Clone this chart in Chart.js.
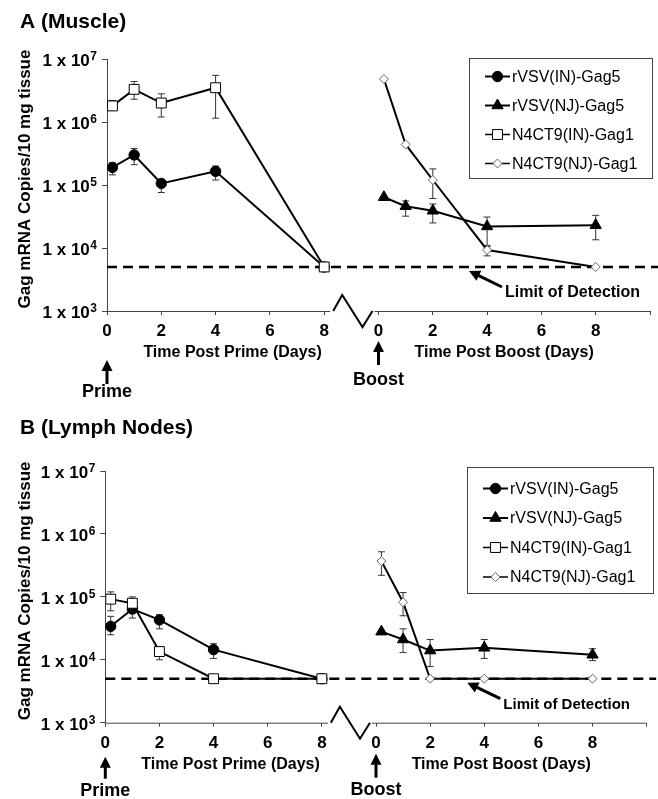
<!DOCTYPE html>
<html>
<head>
<meta charset="utf-8">
<title>Gag mRNA</title>
<script src="https://cdn.jsdelivr.net/npm/chart.js@4.4.0/dist/chart.umd.min.js"></script>
<style>
html, body { margin: 0; padding: 0; background: #fff; }
#wrap { position: relative; width: 658px; height: 799px; }
canvas { position: absolute; left: 0; }
#chartA { top: 0; }
#chartB { top: 400px; }
</style>
</head>
<body>
<div id="wrap">
  <canvas id="chartA" width="658" height="400"></canvas>
  <canvas id="chartB" width="658" height="399"></canvas>
</div>
<script>
// days
const PRIME_DAYS = [0.2, 1, 2, 4, 8];
const BOOST_DAYS = [0.2, 1, 2, 4, 8];
const BOOST_SHIFT = 10; // boost axis starts 10 units after prime day 0
const X_TICKS = [0, 2, 4, 6, 8, 10, 12, 14, 16, 18, 20];
const Y_TICKS = [1e3, 1e4, 1e5, 1e6, 1e7];
const LOD = 5000;
const SERIES_NAMES = ['rVSV(IN)-Gag5', 'rVSV(NJ)-Gag5', 'N4CT9(IN)-Gag1', 'N4CT9(NJ)-Gag1'];

// A (Muscle)
const muscleInGag5   = [1.9e5, 3.0e5, 1.06e5, 1.65e5, 5000];
const muscleInGag5Hi = [2.25e5, 3.8e5, 1.2e5, 2.0e5, null];
const muscleInGag5Lo = [1.45e5, 2.1e5, 7.6e4, 1.2e5, null];
const muscleNjGag5   = [6.4e4, 4.6e4, 3.9e4, 2.2e4, 2.3e4];
const muscleNjGag5Hi = [null, 5.6e4, 5.0e4, 3.1e4, 3.3e4];
const muscleNjGag5Lo = [null, 3.2e4, 2.5e4, 1.05e4, 1.35e4];
const muscleInGag1   = [1.8e6, 3.3e6, 2.0e6, 3.5e6, 5000];
const muscleInGag1Hi = [2.2e6, 4.4e6, 2.8e6, 5.5e6, null];
const muscleInGag1Lo = [1.55e6, 2.3e6, 1.2e6, 1.15e6, null];
const muscleNjGag1   = [4.8e6, 4.4e5, 1.2e5, 9.3e3, 5000];
const muscleNjGag1Hi = [null, null, 1.8e5, 1.1e4, null];
const muscleNjGag1Lo = [null, null, 6.1e4, 7.5e3, null];

// B (Lymph Nodes)
const lymphInGag5   = [3.4e4, 6.4e4, 4.3e4, 1.45e4, 5000];
const lymphInGag5Hi = [4.9e4, null, 5.2e4, 1.8e4, null];
const lymphInGag5Lo = [2.5e4, null, 3.1e4, 1.05e4, null];
const lymphNjGag5   = [2.8e4, 2.1e4, 1.4e4, 1.55e4, 1.2e4];
const lymphNjGag5Hi = [null, 3.1e4, 2.1e4, 2.1e4, 1.5e4];
const lymphNjGag5Lo = [null, 1.3e4, 7.8e3, 1.05e4, 9.7e3];
const lymphInGag1   = [9.2e4, 7.9e4, 1.35e4, 5000, 5000];
const lymphInGag1Hi = [1.2e5, 1.0e5, null, null, null];
const lymphInGag1Lo = [6.0e4, 4.6e4, 1.0e4, null, null];
const lymphNjGag1   = [3.7e5, 8.2e4, 5000, 5000, 5000];
const lymphNjGag1Hi = [5.2e5, 1.17e5, null, null, null];
const lymphNjGag1Lo = [2.2e5, 5.0e4, null, null, null];

const FONT = '"Liberation Sans", Arial, Helvetica, sans-serif';

// panel settings (layout only)
const panels = [
    {
        canvas: 'chartA', title: 'A (Muscle)', titleY: 22,
        pad: { left: 8, right: 8, top: 59, bottom: 59 }, plotLeft: 107,
        prime: { tip: 49, tail: 73, label: 81 },
        boost: { tip: 30, tail: 54, label: 69 },
        legend: { x: 469, y: 58, w: 183, h: 120, row0: 18.5, step: 29 },
        lodFont: 16,
        inGag5: [muscleInGag5, muscleInGag5Hi, muscleInGag5Lo],
        njGag5: [muscleNjGag5, muscleNjGag5Hi, muscleNjGag5Lo],
        inGag1: [muscleInGag1, muscleInGag1Hi, muscleInGag1Lo],
        njGag1: [muscleNjGag1, muscleNjGag1Hi, muscleNjGag1Lo]
    },
    {
        canvas: 'chartB', title: 'B (Lymph Nodes)', titleY: 28,
        pad: { left: 8, right: 11.3, top: 71, bottom: 46.3 }, plotLeft: 105.3,
        prime: { tip: 34, tail: 56, label: 68 },
        boost: { tip: 31, tail: 55, label: 67 },
        legend: { x: 467, y: 67, w: 186, h: 126, row0: 21.5, step: 29.5 },
        lodFont: 15,
        inGag5: [lymphInGag5, lymphInGag5Hi, lymphInGag5Lo],
        njGag5: [lymphNjGag5, lymphNjGag5Hi, lymphNjGag5Lo],
        inGag1: [lymphInGag1, lymphInGag1Hi, lymphInGag1Lo],
        njGag1: [lymphNjGag1, lymphNjGag1Hi, lymphNjGag1Lo]
    }
];

function toPoints(days, vals, shift) {
    return days.map((d, i) => ({ x: d + shift, y: vals[i] }));
}

// arrow from tail to head
function arrow(ctx, x1, y1, x2, y2, w) {
    const a = Math.atan2(y2 - y1, x2 - x1);
    const hl = 11, hw = 5.5;
    const bx = x2 - Math.cos(a) * hl, by = y2 - Math.sin(a) * hl;
    ctx.save();
    ctx.strokeStyle = '#000';
    ctx.fillStyle = '#000';
    ctx.lineWidth = w;
    ctx.beginPath();
    ctx.moveTo(x1, y1);
    ctx.lineTo(bx + Math.cos(a) * 2, by + Math.sin(a) * 2);
    ctx.stroke();
    ctx.beginPath();
    ctx.moveTo(x2, y2);
    ctx.lineTo(bx + Math.sin(a) * hw, by - Math.cos(a) * hw);
    ctx.lineTo(bx - Math.sin(a) * hw, by + Math.cos(a) * hw);
    ctx.closePath();
    ctx.fill();
    ctx.restore();
}

// legend marker
function marker(ctx, ds, x, y) {
    const r = ds.pointRadius;
    ctx.save();
    ctx.fillStyle = ds.pointBackgroundColor;
    ctx.strokeStyle = ds.pointBorderColor;
    ctx.lineWidth = ds.pointBorderWidth;
    ctx.beginPath();
    if (ds.pointStyle === 'circle') {
        ctx.arc(x, y, r, 0, Math.PI * 2);
    } else if (ds.pointStyle === 'triangle') {
        ctx.moveTo(x, y - r);
        ctx.lineTo(x + r * 0.866, y + r / 2);
        ctx.lineTo(x - r * 0.866, y + r / 2);
        ctx.closePath();
    } else if (ds.pointStyle === 'rect') {
        const s = r * Math.SQRT1_2;
        ctx.rect(x - s, y - s, 2 * s, 2 * s);
    } else {
        ctx.moveTo(x - r, y);
        ctx.lineTo(x, y - r);
        ctx.lineTo(x + r, y);
        ctx.lineTo(x, y + r);
        ctx.closePath();
    }
    ctx.fill();
    ctx.stroke();
    ctx.restore();
}

function makeDecor(p) {
    return {
        id: 'decor',
        // error bars under the markers
        beforeDatasetsDraw(chart) {
            const ctx = chart.ctx, xs = chart.scales.x, ys = chart.scales.y;
            ctx.save();
            ctx.strokeStyle = '#333';
            ctx.lineWidth = 1;
            chart.data.datasets.forEach(ds => {
                if (!ds.hi) return;
                ds.data.forEach((pt, j) => {
                    const px = xs.getPixelForValue(pt.x);
                    const pc = ys.getPixelForValue(pt.y);
                    [ds.hi[j], ds.lo[j]].forEach(v => {
                        if (v == null) return;
                        const py = ys.getPixelForValue(v);
                        ctx.beginPath();
                        ctx.moveTo(px, pc);
                        ctx.lineTo(px, py);
                        ctx.moveTo(px - 3.5, py);
                        ctx.lineTo(px + 3.5, py);
                        ctx.stroke();
                    });
                });
            });
            ctx.restore();
        },
        afterDatasetsDraw(chart) {
            const ctx = chart.ctx, xs = chart.scales.x, ys = chart.scales.y;
            const area = chart.chartArea;
            const b = area.bottom;
            const x0 = xs.getPixelForValue(0);
            const x8 = xs.getPixelForValue(8);
            const x10 = xs.getPixelForValue(BOOST_SHIFT);
            ctx.save();

            // broken x axis
            ctx.strokeStyle = '#444';
            ctx.lineWidth = 1;
            ctx.beginPath();
            ctx.moveTo(area.left, b + 0.5);
            ctx.lineTo(x8 + 6, b + 0.5);
            ctx.moveTo(x10 - 4, b + 0.5);
            ctx.lineTo(area.right, b + 0.5);
            ctx.stroke();
            ctx.strokeStyle = '#000';
            ctx.lineWidth = 2;
            ctx.beginPath();
            ctx.moveTo(x8 + 9, b);
            ctx.lineTo(x8 + 18, b - 16);
            ctx.lineTo(x10 - 16, b + 16);
            ctx.lineTo(x10 - 6, b);
            ctx.stroke();

            // y tick labels 1 x 10^n
            ctx.fillStyle = '#000';
            ctx.textAlign = 'right';
            ctx.textBaseline = 'alphabetic';
            ys.ticks.forEach(t => {
                const py = ys.getPixelForValue(t.value);
                const exp = String(Math.round(Math.log10(t.value)));
                const supRight = area.left - 10;
                ctx.font = 'bold 12px ' + FONT;
                ctx.fillText(exp, supRight, py + 1);
                const w = ctx.measureText(exp).width;
                ctx.font = 'bold 17px ' + FONT;
                ctx.fillText('1 x 10', supRight - w - 0.5, py + 7);
            });

            // y title
            ctx.save();
            ctx.translate(25, (area.top + b) / 2 - 6);
            ctx.rotate(-Math.PI / 2);
            ctx.textAlign = 'center';
            ctx.textBaseline = 'middle';
            ctx.font = 'bold 17px ' + FONT;
            ctx.fillText('Gag mRNA Copies/10 mg tissue', 0, 0);
            ctx.restore();

            // panel title
            ctx.textAlign = 'left';
            ctx.textBaseline = 'middle';
            ctx.font = 'bold 21px ' + FONT;
            ctx.fillText(p.title, 20, p.titleY);

            // x titles
            ctx.textAlign = 'center';
            ctx.font = 'bold 16px ' + FONT;
            ctx.fillText('Time Post Prime (Days)', (x0 + x8) / 2 + 17, b + 41.5);
            ctx.fillText('Time Post Boost (Days)', (x10 + xs.getPixelForValue(18)) / 2 + 17, b + 41.5);

            // Prime / Boost arrows
            arrow(ctx, x0, b + p.prime.tail, x0, b + p.prime.tip, 3);
            arrow(ctx, x10, b + p.boost.tail, x10, b + p.boost.tip, 3);
            ctx.font = 'bold 18px ' + FONT;
            ctx.fillText('Prime', x0, b + p.prime.label);
            ctx.fillText('Boost', x10, b + p.boost.label);

            // limit of detection note
            const yLod = ys.getPixelForValue(LOD);
            arrow(ctx, area.left + 395, b - 24, area.left + 362, yLod + 4, 3);
            ctx.textAlign = 'left';
            ctx.font = 'bold ' + p.lodFont + 'px ' + FONT;
            ctx.fillText('Limit of Detection', area.left + 398, b - 18);

            // legend box
            const L = p.legend;
            ctx.fillStyle = '#fff';
            ctx.fillRect(L.x, L.y, L.w, L.h);
            ctx.strokeStyle = '#444';
            ctx.lineWidth = 1;
            ctx.strokeRect(L.x + 0.5, L.y + 0.5, L.w, L.h);
            SERIES_NAMES.forEach((name, i) => {
                const ds = chart.data.datasets[i];
                const cy = L.y + L.row0 + i * L.step;
                ctx.strokeStyle = '#000';
                ctx.lineWidth = i < 2 ? 2 : 1.5;
                ctx.beginPath();
                ctx.moveTo(L.x + 16, cy);
                ctx.lineTo(L.x + 41, cy);
                ctx.stroke();
                marker(ctx, ds, L.x + 28.5, cy);
                ctx.fillStyle = '#000';
                ctx.font = '16px ' + FONT;
                ctx.textBaseline = 'middle';
                ctx.fillText(name, L.x + 43, cy + 1);
            });
            ctx.restore();
        }
    };
}

function buildChart(p) {
    const line = { borderColor: '#000', borderWidth: 2, tension: 0, pointBorderWidth: 1 };
    // order: smaller value is drawn on top (squares cover the circles at day 8)
    const datasets = [
        Object.assign({}, line, {
            label: SERIES_NAMES[0], data: toPoints(PRIME_DAYS, p.inGag5[0], 0),
            hi: p.inGag5[1], lo: p.inGag5[2], order: 2,
            pointStyle: 'circle', pointRadius: 5.2,
            pointBackgroundColor: '#000', pointBorderColor: '#000'
        }),
        Object.assign({}, line, {
            label: SERIES_NAMES[1], data: toPoints(BOOST_DAYS, p.njGag5[0], BOOST_SHIFT),
            hi: p.njGag5[1], lo: p.njGag5[2], order: 3,
            pointStyle: 'triangle', pointRadius: 6.5,
            pointBackgroundColor: '#000', pointBorderColor: '#000'
        }),
        Object.assign({}, line, {
            label: SERIES_NAMES[2], data: toPoints(PRIME_DAYS, p.inGag1[0], 0),
            hi: p.inGag1[1], lo: p.inGag1[2], order: 1,
            pointStyle: 'rect', pointRadius: 7,
            pointBackgroundColor: '#fff', pointBorderColor: '#000'
        }),
        Object.assign({}, line, {
            label: SERIES_NAMES[3], data: toPoints(BOOST_DAYS, p.njGag1[0], BOOST_SHIFT),
            hi: p.njGag1[1], lo: p.njGag1[2], order: 0,
            pointStyle: 'rectRot', pointRadius: 4.5,
            pointBackgroundColor: '#fff', pointBorderColor: '#666'
        }),
        {
            label: 'Limit of Detection', data: [{ x: 0, y: LOD }, { x: 20.35, y: LOD }],
            borderColor: '#000', borderWidth: 2.5, borderDash: [10, 6], order: 9,
            pointRadius: 0, clip: false
        }
    ];

    return new Chart(document.getElementById(p.canvas), {
        type: 'line',
        data: { datasets: datasets },
        options: {
            responsive: false,
            animation: false,
            devicePixelRatio: 1,
            events: [],
            layout: { padding: p.pad },
            plugins: {
                legend: { display: false },
                tooltip: { enabled: false }
            },
            scales: {
                x: {
                    type: 'linear', min: 0, max: 20,
                    afterBuildTicks: s => { s.ticks = X_TICKS.map(v => ({ value: v })); },
                    afterFit: s => { s.height = 30; },
                    ticks: {
                        autoSkip: false, maxRotation: 0, padding: 6, color: '#000',
                        font: { family: FONT, size: 17, weight: 'bold' },
                        callback: v => v <= 8 ? String(v) : (v < 20 ? String(v - BOOST_SHIFT) : '')
                    },
                    grid: { drawOnChartArea: false, tickLength: 4, color: '#444' },
                    border: { display: false }
                },
                y: {
                    type: 'logarithmic', min: 1e3, max: 1e7,
                    afterBuildTicks: s => { s.ticks = Y_TICKS.map(v => ({ value: v })); },
                    afterFit: s => { s.width = p.plotLeft - p.pad.left; },
                    ticks: { display: false },
                    grid: { drawOnChartArea: false, tickLength: 5, color: '#444' },
                    border: { color: '#444', width: 1 }
                }
            }
        },
        plugins: [makeDecor(p)]
    });
}

panels.forEach(buildChart);
</script>
</body>
</html>
